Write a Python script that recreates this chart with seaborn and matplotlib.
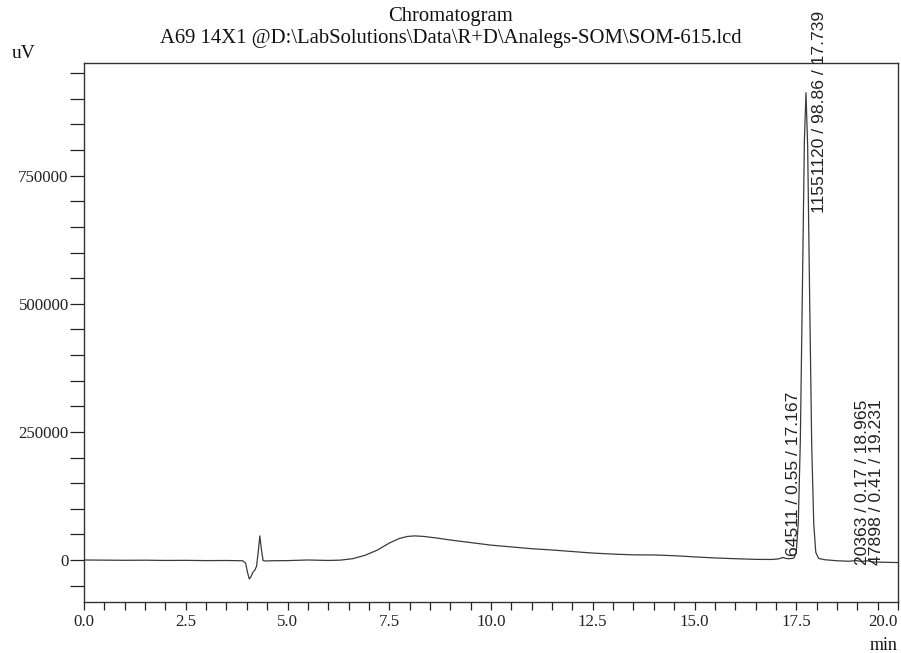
import matplotlib
matplotlib.use("Agg")
import matplotlib.pyplot as plt
import seaborn as sns
import pandas as pd
from matplotlib.ticker import MultipleLocator, FixedLocator

# Retention time (min) and detector signal (uV)
time_min = [0.0, 0.5, 1.0, 1.5, 2.0, 2.5, 3.0, 3.5, 3.9, 3.97, 4.02, 4.06, 4.1, 4.15, 4.2, 4.24,
            4.28, 4.32, 4.36, 4.4, 4.45, 4.6, 5.0, 5.5, 6.0, 6.3, 6.6, 6.9, 7.2, 7.5, 7.75,
            7.95, 8.12, 8.35, 8.7, 9.0, 9.5, 10.0, 10.5, 11.0, 11.5, 12.0, 12.5, 13.0, 13.5,
            14.0, 14.3, 14.7, 15.0, 15.5, 16.0, 16.5, 16.9, 17.05, 17.12, 17.167, 17.22,
            17.3, 17.4, 17.45, 17.5, 17.55, 17.6, 17.65, 17.7, 17.739, 17.78, 17.83, 17.88,
            17.93, 17.98, 18.05, 18.2, 18.5, 18.8, 18.965, 19.1, 19.231, 19.4, 19.7, 20.0]
signal_uv = [0, -300, -600, -400, -900, -700, -1200, -1000, -1500, -6000, -25000, -37000, -33000,
             -24000, -19500, -12000, 15000, 47000, 20000, -1000, -2000, -1500, -1200, 0, -900,
             -300, 2500, 9000, 19000, 33000, 42000, 46000, 47000, 46000, 42500, 39000, 34000,
             29000, 25500, 22000, 19500, 16500, 13500, 11500, 10000, 9800, 9000, 7500, 6000,
             4000, 2500, 1200, 1000, 2000, 3500, 5000, 3500, 2500, 3000, 4500, 16000, 73000,
             232000, 521000, 819000, 912000, 809000, 507000, 223000, 70000, 15000, 3000, 500,
             -1500, -2500, -1000, -3000, -1500, -4000, -4500, -5000]

# Peak annotations: area / area% / retention time
peak_labels = ["64511 / 0.55 / 17.167", "11551120 / 98.86 / 17.739",
               "20363 / 0.17 / 18.965", "47898 / 0.41 / 19.231"]
label_x = [17.44, 18.06, 19.14, 19.48]
label_y = [8000, 677000, -9800, -9800]

x_ticks = [0.0, 2.5, 5.0, 7.5, 10.0, 12.5, 15.0, 17.5, 20.0]
x_tick_labels = ["0.0", "2.5", "5.0", "7.5", "10.0", "12.5", "15.0", "17.5", "20.0"]
y_ticks = [0, 250000, 500000, 750000]
y_tick_labels = ["0", "250000", "500000", "750000"]

df = pd.DataFrame({"time": time_min, "signal": signal_uv})

sns.set_style("white")
plt.rcParams["font.family"] = ["Liberation Serif", "DejaVu Serif"]

fig = plt.figure(figsize=(9.01, 6.53), dpi=100)
ax = fig.add_axes([84 / 901, 1 - 602 / 653, 814 / 901, 539 / 653])

sns.lineplot(data=df, x="time", y="signal", ax=ax, color="#3a3a3a", linewidth=0.9,
             estimator=None, sort=False)

ax.set_xlim(0, 20)
ax.set_ylim(-82000, 970000)
ax.set_xticks(x_ticks)
ax.set_xticklabels(x_tick_labels)
ax.set_yticks(y_ticks)
ax.set_yticklabels(y_tick_labels)
ax.get_xticklabels()[-1].set_horizontalalignment("right")
ax.xaxis.set_minor_locator(MultipleLocator(0.5))
ax.yaxis.set_minor_locator(FixedLocator([-50000] + [v for v in range(50000, 1000000, 50000)]))
ax.tick_params(axis="both", which="major", direction="out", width=0.9,
               colors="#222222", labelsize=12.2, bottom=True, left=True)
ax.tick_params(axis="both", which="minor", direction="out", width=0.9,
               color="#222222", bottom=True, left=True)
ax.tick_params(axis="y", which="both", length=10, pad=1)
ax.tick_params(axis="x", which="both", length=6, pad=3)
ax.set_xlabel("")
ax.set_ylabel("")
for s in ax.spines.values():
    s.set_color("#333333")
    s.set_linewidth(1.0)
    s.set_visible(True)

for txt, xv, yv in zip(peak_labels, label_x, label_y):
    ax.text(xv, yv, txt, rotation=90, ha="center", va="bottom", fontsize=12.6,
            family=["Liberation Sans", "DejaVu Sans"], color="#222222", clip_on=False)

fig.text(0.5, 1 - 17 / 653, "Chromatogram", ha="center", va="center", fontsize=14.9, color="#111111")
fig.text(0.5, 1 - 39 / 653, "A69 14X1 @D:\\LabSolutions\\Data\\R+D\\Analegs-SOM\\SOM-615.lcd",
         ha="center", va="center", fontsize=14.9, color="#111111")
fig.text(12 / 901, 1 - 53 / 653, "uV", ha="left", va="center", fontsize=14, color="#111111")
fig.text(898 / 901, 1 - 645 / 653, "min", ha="right", va="center", fontsize=13, color="#111111")

fig.savefig("out.png", dpi=100, facecolor="white")
